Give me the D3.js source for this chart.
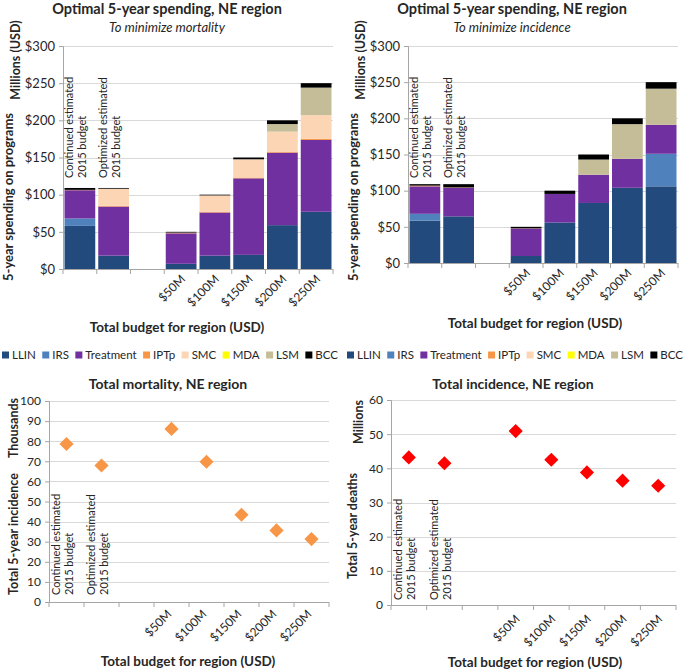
<!DOCTYPE html>
<html><head><meta charset="utf-8">
<script src="https://cdn.jsdelivr.net/npm/d3@7"></script>
<style>
body{margin:0;background:#fff;}
svg text{font-family:Lato,"Open Sans",sans-serif;fill:#262626;}
</style></head>
<body><svg id="c" width="685" height="671"></svg>
<script>
// ---------- DATA ----------
const categories = ["Continued estimated 2015 budget","Optimized estimated 2015 budget"," ","$50M","$100M","$150M","$200M","$250M"];
const tickLabels = ["","","","$50M","$100M","$150M","$200M","$250M"];
const programs = ["LLIN","IRS","Treatment","IPTp","SMC","MDA","LSM","BCC"];
const programColors = ["#234A7C","#4F81BD","#7030A0","#F79646","#FCD5B5","#FFFF00","#C4BD97","#000000"];

// spending to minimize mortality (millions USD)
const mortLLIN  = [58, 18, 0, 7, 18, 19, 59, 77];
const mortIRS   = [10, 0, 0, 0, 0, 0, 0, 0];
const mortTreat = [38, 66, 0, 41, 58, 103, 97.5, 96.6];
const mortIPTp  = [0.5, 1, 0, 0.5, 1, 1, 1, 1.4];
const mortSMC   = [0, 23, 0, 0.5, 22, 24.6, 27.3, 32];
const mortMDA   = [0, 0, 0, 0, 0, 0, 0, 0];
const mortLSM   = [0, 0, 0, 0, 0, 0, 10.2, 37];
const mortBCC   = [2.5, 1, 0, 1, 1, 2.4, 5, 6];

// spending to minimize incidence (millions USD)
const incLLIN  = [58.5, 64.5, 0, 9.7, 56, 83, 104, 106];
const incIRS   = [9.5, 0, 0, 0, 0, 0, 0, 45];
const incTreat = [38, 39.5, 0, 38, 39.5, 39, 40, 40];
const incIPTp  = [1, 0.5, 0, 0.3, 0, 0, 0, 0];
const incSMC   = [0, 0, 0, 0, 0, 0, 0, 0];
const incMDA   = [0, 0, 0, 0, 0, 0, 0, 0];
const incLSM   = [0, 0, 0, 0, 0, 21, 48, 50];
const incBCC   = [2, 4.5, 0, 2, 4.5, 7, 8, 9];

// outcomes
const totalMortality = [78.6, 67.9, null, 86.1, 69.8, 43.4, 35.6, 31.3]; // thousands
const totalIncidence = [43.2, 41.5, null, 50.9, 42.5, 38.8, 36.4, 34.9]; // millions

const yTicksSpend = [0,50,100,150,200,250,300];
const yTicksMort = [0,10,20,30,40,50,60,70,80,90,100];
const yTicksInc = [0,10,20,30,40,50,60];

// ---------- DRAW ----------
const svg = d3.select("#c");
const GRID = "#D9D9D9", AXIS = "#A6A6A6";

function buildRows(series){
  return categories.map((c,i)=>{
    const r = {cat:c};
    programs.forEach((p,j)=>{ r[p] = series[j][i]; });
    return r;
  });
}

function frame(o){
  const x = d3.scaleBand().domain(categories).range([o.x0,o.x1]).paddingInner(0).paddingOuter(0);
  const y = d3.scaleLinear().domain(o.domain).range([o.y0,o.y1]);
  const g = svg.append("g");
  g.selectAll(".gl").data(o.ticks.filter(t=>t>0)).join("line")
    .attr("x1",o.x0).attr("x2",o.x1).attr("y1",d=>Math.round(y(d))+0.5).attr("y2",d=>Math.round(y(d))+0.5)
    .attr("stroke",GRID).attr("stroke-width",1);
  const ya = d3.axisLeft(y).tickValues(o.ticks).tickFormat(o.fmt).tickSize(4).tickPadding(4);
  const yg = g.append("g").attr("transform",`translate(${o.x0},0)`).call(ya);
  yg.select(".domain").attr("stroke",AXIS);
  yg.selectAll(".tick line").attr("stroke",AXIS);
  yg.selectAll(".tick text").attr("font-size",o.tickFont).attr("fill","#262626").attr("font-family","Lato");
  return {x,y,g};
}

function xAxis(f,o){
  const {x,g} = f;
  const base = o.y0;
  g.append("line").attr("x1",o.x0).attr("x2",o.x1).attr("y1",base+0.5).attr("y2",base+0.5).attr("stroke",AXIS).attr("stroke-width",1);
  const edges = categories.map(c=>x(c)).concat([o.x1]);
  g.selectAll(".xt").data(edges).join("line")
    .attr("x1",d=>d).attr("x2",d=>d).attr("y1",base).attr("y2",base+5).attr("stroke",AXIS);
  g.selectAll(".xl").data(categories).join("text")
    .attr("transform",(d)=>`translate(${x(d)+x.bandwidth()/2+o.tlDx},${base+o.tlDy}) rotate(-45)`)
    .attr("text-anchor","end").attr("font-size",12).attr("dy","0.35em")
    .text((d,i)=>tickLabels[i]);
  [0,1].forEach(i=>{
    const parts = categories[i].split(" ");
    const l1 = parts[0]+" "+parts[1], l2 = parts[2]+" "+parts[3];
    const cx = x(categories[i]);
    g.append("text").attr("transform",`translate(${cx+o.inL1},${o.inBottom}) rotate(-90)`).attr("font-size",11).text(l1);
    g.append("text").attr("transform",`translate(${cx+o.inL2},${o.inBottom}) rotate(-90)`).attr("font-size",11).text(l2);
  });
  svg.append("text").attr("x",o.xtX).attr("y",o.xtY).attr("text-anchor","middle")
    .attr("font-size",13.5).attr("font-weight","bold").text("Total budget for region (USD)");
}

function rotLabel(txt,x,y,size){
  svg.append("text").attr("transform",`translate(${x},${y}) rotate(-90)`).attr("text-anchor","middle")
    .attr("font-size",size).attr("font-weight","bold").text(txt);
}

function title(txt,x,y,size){
  svg.append("text").attr("x",x).attr("y",y).attr("text-anchor","middle").attr("font-size",size).attr("font-weight","bold").text(txt);
}

function stacked(o, series){
  const f = frame(o);
  xAxis(f,o);
  const rows = buildRows(series);
  const stack = d3.stack().keys(programs)(rows);
  const bw = f.x.bandwidth();
  const layer = f.g.selectAll(".layer").data(stack).join("g").attr("fill",(d,i)=>programColors[i]);
  layer.selectAll("rect").data(d=>d.filter(s=>s[1]>s[0])).join("rect")
    .attr("x",d=>f.x(d.data.cat)+1.5).attr("width",bw-3)
    .attr("y",d=>f.y(d[1])).attr("height",d=>f.y(d[0])-f.y(d[1]));
}

function scatter(o, vals, color){
  const f = frame(o);
  const pts = categories.map((c,i)=>({c,v:vals[i]})).filter(d=>d.v!=null);
  const sym = d3.symbol().type(d3.symbolSquare).size(100);
  xAxis(f,o);
  f.g.selectAll(".pt").data(pts).join("path")
    .attr("d",sym)
    .attr("transform",d=>`translate(${f.x(d.c)+f.x.bandwidth()/2},${f.y(d.v)}) rotate(45)`)
    .attr("fill",color);
}

// Chart A: mortality spending
stacked({x0:63,x1:333,y0:269,y1:46,domain:[0,300],ticks:yTicksSpend,fmt:d=>"$"+d,tickFont:13,
  tlDx:2,tlDy:8,inL1:10,inL2:23,inBottom:178,xtX:177,xtY:332},
  [mortLLIN,mortIRS,mortTreat,mortIPTp,mortSMC,mortMDA,mortLSM,mortBCC]);
title("Optimal 5-year spending, NE region",167,14,14.5);
svg.append("text").attr("x",167).attr("y",31.5).attr("text-anchor","middle").attr("font-size",13).attr("font-style","italic").text("To minimize mortality");
rotLabel("Millions (USD)",20,60,12.5);
rotLabel("5-year spending on programs",13,197,13);

// Chart B: incidence spending
stacked({x0:408,x1:678,y0:263,y1:46,domain:[0,300],ticks:yTicksSpend,fmt:d=>"$"+d,tickFont:13,
  tlDx:2,tlDy:8,inL1:10,inL2:23,inBottom:178,xtX:535,xtY:328},
  [incLLIN,incIRS,incTreat,incIPTp,incSMC,incMDA,incLSM,incBCC]);
title("Optimal 5-year spending, NE region",512,14,14.5);
svg.append("text").attr("x",512).attr("y",31.5).attr("text-anchor","middle").attr("font-size",13).attr("font-style","italic").text("To minimize incidence");
rotLabel("Millions (USD)",365,60,12.5);
rotLabel("5-year spending on programs",358,197,13);

// Legends
function legend(x0,width,y){
  const fs = 11.5;
  const g = svg.append("g");
  const texts = programs.map(p=>g.append("text").attr("y",y+4).attr("font-size",fs).text(p));
  const widths = texts.map(t=>t.node().getComputedTextLength());
  const gap = (width - d3.sum(widths) - programs.length*10)/(programs.length-1);
  let x = x0;
  programs.forEach((p,i)=>{
    g.append("rect").attr("x",x).attr("y",y-3.5).attr("width",7).attr("height",7).attr("fill",programColors[i]);
    texts[i].attr("x",x+10);
    x += 10 + widths[i] + gap;
  });
}
legend(2,336,355);
legend(347,336,355);

// Chart C: total mortality
scatter({x0:49,x1:329,y0:602,y1:401,domain:[0,100],ticks:yTicksMort,fmt:d=>d,tickFont:12,
  tlDx:-2,tlDy:10,inL1:11,inL2:24,inBottom:595,xtX:188,xtY:666},totalMortality,"#F79646");
title("Total mortality, NE region",168,389,14);
rotLabel("Thousands",18,428,12.5);
rotLabel("Total 5-year incidence",18,534,12.5);

// Chart D: total incidence
scatter({x0:391,x1:676,y0:605,y1:400,domain:[0,60],ticks:yTicksInc,fmt:d=>d,tickFont:12,
  tlDx:2,tlDy:12,inL1:11,inL2:24,inBottom:600,xtX:535,xtY:667},totalIncidence,"#FF0000");
title("Total incidence, NE region",513,389,14);
rotLabel("Millions",363,422,12.5);
rotLabel("Total 5-year deaths",357,526,12.5);
</script></body></html>
